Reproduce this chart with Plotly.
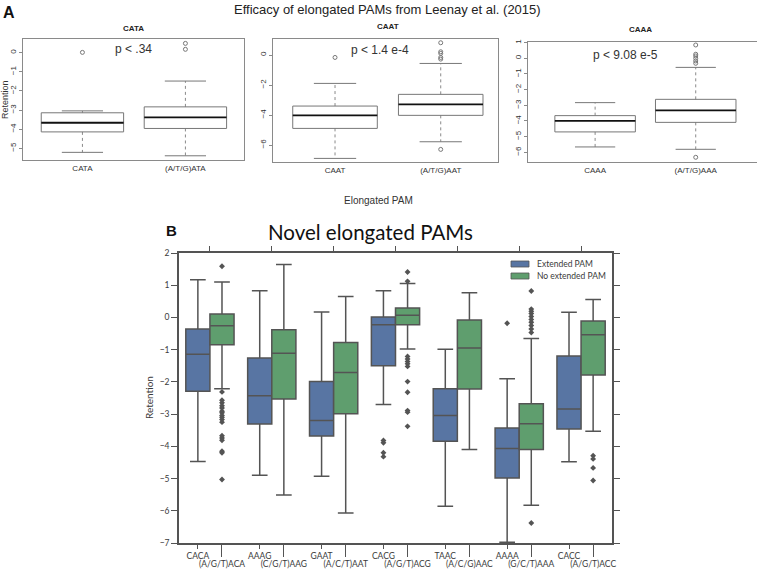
import plotly.graph_objects as go

W, H = 757, 574

# ---------------- Panel A data (R boxplots) ----------------
A_TITLES = ["CATA", "CAAT", "CAAA"]
A_CATEGORIES = [["CATA", "(A/T/G)ATA"], ["CAAT", "(A/T/G)AAT"], ["CAAA", "(A/T/G)AAA"]]
A_PVALUES = ["p < .34", "p < 1.4 e-4", "p < 9.08 e-5"]
A_LOWER = [[-5.21, -5.39], [-6.89, -5.78], [-5.66, -5.81]]
A_Q1 = [[-4.14, -3.96], [-4.89, -4.02], [-4.70, -4.09]]
A_MEDIAN = [[-3.66, -3.38], [-4.02, -3.29], [-4.00, -3.32]]
A_Q3 = [[-3.14, -2.83], [-3.40, -2.62], [-3.66, -2.62]]
A_UPPER = [[-3.04, -1.48], [-1.89, -0.56], [-2.83, -0.58]]
A_OUTLIERS = [
    [[0.02], [0.49, 0.18]],
    [[-0.16], [0.82, 0.22, 0.11, -0.16, -0.27, -6.29]],
    [[], [0.85, 0.26, 0.15, 0.0, -0.17, -0.32, -6.32]],
]
A_YTICKS = [[0, -1, -2, -3, -4, -5], [0, -2, -4, -6], [1, 0, -1, -2, -3, -4, -5, -6]]

# ---------------- Panel B data (seaborn boxplots) ----------------
B_SERIES = ["Extended PAM", "No extended PAM"]
B_EXT_LABELS = ["CACA", "AAAG", "GAAT", "CACG", "TAAC", "AAAA", "CACC"]
B_NOEXT_LABELS = ["(A/G/T)ACA", "(C/G/T)AAG", "(A/C/T)AAT", "(A/G/T)ACG",
                  "(A/C/G)AAC", "(G/C/T)AAA", "(A/G/T)ACC"]
EXT_LOWER = [-4.47, -4.90, -4.93, -2.70, -5.86, -6.98, -4.48]
EXT_Q1 = [-2.29, -3.31, -3.68, -1.50, -3.84, -4.98, -3.46]
EXT_MED = [-1.14, -2.43, -3.20, -0.23, -3.04, -4.07, -2.84]
EXT_Q3 = [-0.36, -1.26, -1.99, 0.01, -2.21, -3.43, -1.20]
EXT_UPPER = [1.17, 0.83, 0.17, 0.83, -0.99, -1.90, 0.16]
EXT_OUTLIERS = [[], [], [], [-3.82, -3.89, -4.20, -4.32], [], [-0.18], []]
NOEXT_LOWER = [-2.21, -5.51, -6.07, -0.98, -4.10, -5.83, -3.53]
NOEXT_Q1 = [-0.85, -2.53, -2.99, -0.23, -2.22, -4.10, -1.79]
NOEXT_MED = [-0.26, -1.11, -1.71, 0.07, -0.95, -3.30, -0.54]
NOEXT_Q3 = [0.11, -0.38, -0.78, 0.29, -0.08, -2.68, -0.11]
NOEXT_UPPER = [1.10, 1.64, 0.65, 1.05, 0.77, -0.65, 0.56]
NOEXT_OUTLIERS = [
    [1.59, -2.31, -2.57, -2.65, -2.74, -2.81, -2.91, -2.96, -3.04, -3.10, -3.17,
     -3.25, -3.67, -3.74, -3.81, -4.15, -4.20, -5.03],
    [], [],
    [1.41, 1.12, -1.21, -1.29, -1.37, -1.44, -1.52, -1.99, -2.32, -2.89, -2.94, -3.38],
    [],
    [0.82, 0.26, 0.19, 0.12, 0.03, -0.06, -0.15, -0.25, -0.36, -0.47, -6.38],
    [-4.29, -4.39, -4.67, -5.06],
]
B_COLORS = ["#5875A3", "#5F9E6E"]
B_LINE = "#545454"

fig = go.Figure()

# ---------------- Panel A traces ----------------
A_XDOM = [[22.7, 244.0], [273.3, 498.0], [528.0, 757.0]]
A_YDOM = [[39.0, 160.0], [39.3, 162.3], [41.7, 162.3]]
A_XRANGE = [[0.42, 2.569], [0.416, 2.542], [0.333, 2.609]]
A_YRANGE = [[-5.61, 0.72], [-7.15, 1.05], [-6.64, 1.06]]
half = 0.4
for p in range(3):
    xa = "x" if p == 0 else f"x{p + 1}"
    ya = "y" if p == 0 else f"y{p + 1}"
    bx, by, mx, my, wx, wy, cx, cy, ox, oy = [], [], [], [], [], [], [], [], [], []
    for i in range(2):
        pos = i + 1
        q1, q3, med = A_Q1[p][i], A_Q3[p][i], A_MEDIAN[p][i]
        lo, hi = A_LOWER[p][i], A_UPPER[p][i]
        bx += [pos - half, pos + half, pos + half, pos - half, pos - half, None]
        by += [q1, q1, q3, q3, q1, None]
        mx += [pos - half, pos + half, None]
        my += [med, med, None]
        wx += [pos, pos, None, pos, pos, None]
        wy += [q3, hi, None, q1, lo, None]
        cx += [pos - half / 2, pos + half / 2, None, pos - half / 2, pos + half / 2, None]
        cy += [hi, hi, None, lo, lo, None]
        ox += [pos] * len(A_OUTLIERS[p][i])
        oy += A_OUTLIERS[p][i]
    common = dict(xaxis=xa, yaxis=ya, showlegend=False, hoverinfo="skip", mode="lines")
    fig.add_trace(go.Scatter(x=wx, y=wy, line=dict(color="#8a8a8a", width=1, dash="dot"), **common))
    fig.add_trace(go.Scatter(x=cx, y=cy, line=dict(color="#777777", width=1), **common))
    fig.add_trace(go.Scatter(x=bx, y=by, line=dict(color="#777777", width=1), **common))
    fig.add_trace(go.Scatter(x=mx, y=my, line=dict(color="#111111", width=1.8), **common))
    fig.add_trace(go.Scatter(x=ox, y=oy, mode="markers", xaxis=xa, yaxis=ya, showlegend=False,
                             hoverinfo="skip",
                             marker=dict(symbol="circle-open", size=4, color="#777777",
                                         line=dict(width=1))))

# ---------------- Panel B traces ----------------
OFF = 0.195
ext_pos = [g - OFF for g in range(len(B_EXT_LABELS))]
noext_pos = [g + OFF for g in range(len(B_EXT_LABELS))]
stats = [
    (ext_pos, EXT_LOWER, EXT_Q1, EXT_MED, EXT_Q3, EXT_UPPER, EXT_OUTLIERS),
    (noext_pos, NOEXT_LOWER, NOEXT_Q1, NOEXT_MED, NOEXT_Q3, NOEXT_UPPER, NOEXT_OUTLIERS),
]
for k, (pos, lo, q1, med, q3, hi, outl) in enumerate(stats):
    fig.add_trace(go.Box(
        x=pos, lowerfence=lo, q1=q1, median=med, q3=q3, upperfence=hi,
        name=B_SERIES[k], width=0.39, whiskerwidth=0.65, boxpoints=False,
        fillcolor=B_COLORS[k], line=dict(color=B_LINE, width=1.5),
        xaxis="x4", yaxis="y4", showlegend=False, hoverinfo="skip"))
    px, py = [], []
    for g, vals in enumerate(outl):
        px += [pos[g]] * len(vals)
        py += vals
    fig.add_trace(go.Scatter(x=px, y=py, mode="markers", xaxis="x4", yaxis="y4",
                             showlegend=False, hoverinfo="skip",
                             marker=dict(symbol="diamond", size=4.5, color=B_LINE)))

# dummy traces so overlay axes get drawn
for xa in ["x5", "x6"]:
    fig.add_trace(go.Scatter(x=[None], y=[None], xaxis=xa, yaxis="y4",
                             showlegend=False, hoverinfo="skip"))

# ---------------- Layout ----------------
def px2x(v):
    return v / W

def py2y(v):
    return 1 - v / H

layout = dict(
    width=W, height=H, margin=dict(l=0, r=0, t=0, b=0),
    paper_bgcolor="white", plot_bgcolor="white", template="none",
    showlegend=False, boxmode="overlay",
)
a_axis_font = dict(family="Liberation Sans", size=8, color="#333333")
for p in range(3):
    xk = "xaxis" if p == 0 else f"xaxis{p + 1}"
    yk = "yaxis" if p == 0 else f"yaxis{p + 1}"
    ya = "y" if p == 0 else f"y{p + 1}"
    xa = "x" if p == 0 else f"x{p + 1}"
    layout[xk] = dict(
        domain=[px2x(A_XDOM[p][0]), px2x(A_XDOM[p][1])], range=A_XRANGE[p], anchor=ya,
        tickvals=[1, 2], ticktext=A_CATEGORIES[p], ticks="", tickfont=a_axis_font,
        showline=True, mirror=True, linecolor="#8a8a8a", linewidth=1,
        showgrid=False, zeroline=False, automargin=False, fixedrange=True)
    layout[yk] = dict(
        domain=[py2y(A_YDOM[p][1]), py2y(A_YDOM[p][0])], range=A_YRANGE[p], anchor=xa,
        tickvals=A_YTICKS[p], ticks="outside", ticklen=3, tickcolor="#8a8a8a",
        tickangle=-90, tickfont=a_axis_font,
        showline=True, mirror=True, linecolor="#8a8a8a", linewidth=1,
        showgrid=False, zeroline=False, automargin=False, fixedrange=True)

b_font = dict(family="Lato", size=8.5, color="#3a3a3a")
layout["xaxis4"] = dict(
    domain=[px2x(179), px2x(612)], range=[-0.5, 6.5], anchor="y4",
    tickvals=ext_pos, ticktext=B_EXT_LABELS, ticks="outside", ticklen=4,
    tickcolor=B_LINE, tickwidth=1.3, tickfont=b_font,
    showline=True, linecolor=B_LINE, linewidth=1.5,
    showgrid=False, zeroline=False, automargin=False, fixedrange=True)
layout["xaxis5"] = dict(
    overlaying="x4", anchor="y4", side="bottom", range=[-0.5, 6.5],
    tickvals=noext_pos, ticktext=B_NOEXT_LABELS, ticks="outside", ticklen=13,
    tickcolor=B_LINE, tickwidth=1.3, tickfont=b_font, showline=False,
    showgrid=False, zeroline=False, automargin=False, fixedrange=True)
layout["xaxis6"] = dict(
    overlaying="x4", anchor="y4", side="top", range=[-0.5, 6.5],
    tickvals=list(range(len(B_EXT_LABELS))), ticks="outside", ticklen=5,
    tickcolor=B_LINE, tickwidth=1.3, showticklabels=False,
    showline=True, linecolor=B_LINE, linewidth=1.5,
    showgrid=False, zeroline=False, automargin=False, fixedrange=True)
layout["yaxis4"] = dict(
    domain=[py2y(543), py2y(253)], range=[-7, 2], anchor="x4",
    tickvals=list(range(-7, 3)), ticks="outside", ticklen=6,
    tickcolor=B_LINE, tickwidth=1.3, tickfont=b_font,
    showline=True, mirror="ticks", linecolor=B_LINE, linewidth=1.5,
    showgrid=False, zeroline=False, automargin=False, fixedrange=True)

annotations = []
def ann(text, x, y, size, family="Liberation Sans", color="#222222", **kw):
    annotations.append(dict(text=text, x=px2x(x), y=py2y(y), xref="paper", yref="paper",
                            showarrow=False, font=dict(family=family, size=size, color=color),
                            xanchor=kw.pop("xanchor", "center"), yanchor=kw.pop("yanchor", "middle"),
                            **kw))

ann("Efficacy of elongated PAMs from Leenay et al. (2015)", 387, 10, 13)
ann("<b>A</b>", 9, 12, 16, color="#111111")
A_TITLE_POS = [(133, 28), (388, 27), (640, 29)]
A_P_POS = [(133, 49), (380, 50), (625, 55)]
for p in range(3):
    ann(f"<b>{A_TITLES[p]}</b>", A_TITLE_POS[p][0], A_TITLE_POS[p][1], 8)
    ann(A_PVALUES[p], A_P_POS[p][0], A_P_POS[p][1], 12, color="#333333")
ann("Retention", 5, 100, 9, color="#333333", textangle=-90)
ann("Elongated PAM", 378, 200, 10, color="#333333")

ann("<b>B</b>", 171, 230, 15, family="Liberation Sans", color="#111111")
ann("Novel elongated PAMs", 370, 232, 20.5, family="Lato", color="#111111")
ann("Retention", 149, 398, 10, family="Lato", color="#3a3a3a", textangle=-90)

shapes = []
LEG_Y = [264, 276]
for k in range(2):
    shapes.append(dict(type="rect", xref="paper", yref="paper",
                       x0=px2x(511), x1=px2x(529), y0=py2y(LEG_Y[k] + 3), y1=py2y(LEG_Y[k] - 3),
                       fillcolor=B_COLORS[k], line=dict(color=B_LINE, width=0.8)))
    ann(B_SERIES[k], 535, LEG_Y[k], 8.5, family="Lato", color="#3a3a3a", xanchor="left")

layout["annotations"] = annotations
layout["shapes"] = shapes
fig.update_layout(**layout)
fig.write_html("out.html", config={"displayModeBar": False},
               post_script="document.body.style.margin='0';document.body.style.padding='0';")
